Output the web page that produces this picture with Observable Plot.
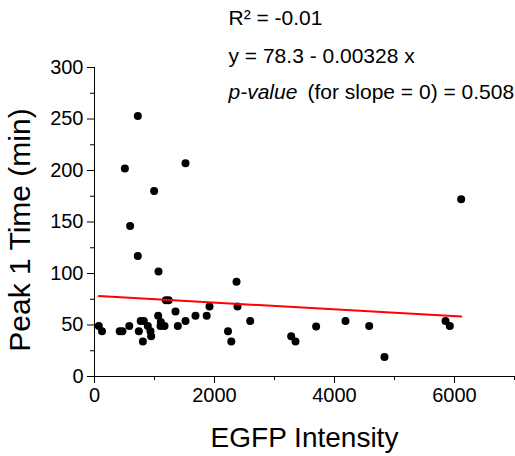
<!DOCTYPE html>
<html>
<head>
<meta charset="utf-8">
<script src="https://cdn.jsdelivr.net/npm/d3@7"></script>
<script src="https://cdn.jsdelivr.net/npm/@observablehq/plot@0.6"></script>
<style>
  html, body { margin: 0; padding: 0; background: #fff; }
  svg { display: block; }
</style>
</head>
<body>
<div id="chart"></div>
<script>
// EGFP intensity (x) and Peak 1 time in minutes (y)
const egfp = [72, 125, 420, 465, 580, 506, 722, 594, 722, 994, 1067, 1517, 2367,
  739, 770, 822, 806, 889, 933, 944, 1061, 1105, 1100, 1167, 1190, 1235, 1350, 1389,
  1517, 1683, 1870, 1917, 2225, 2280, 2383, 2595, 3278, 3350, 3694, 4183, 4578,
  4833, 5850, 5922, 6111];
const peakTime = [49, 44, 44, 44, 49, 202, 253, 146, 117, 180, 102, 207, 92,
  44, 54, 54, 34, 49, 44, 39, 59, 53, 49, 49, 74, 74, 63, 49,
  54, 59, 59, 68, 44, 34, 68, 54, 39, 34, 48.5, 54, 49,
  19, 54, 49, 172];

// Fit reported on the chart
const intercept = 78.3;
const slope = -0.00328;
const statLines = ["R\u00B2 = -0.01", "y = 78.3 - 0.00328 x"];
const pLabel = "p-value";
const pRest = "(for slope = 0) = 0.508";

const xMajor = [0, 2000, 4000, 6000];
const xMinor = [1000, 3000, 5000, 7000];
const yMajor = [0, 50, 100, 150, 200, 250, 300];
const yMinor = [25, 75, 125, 175, 225, 275];

const points = egfp.map((x, i) => ({x, y: peakTime[i]}));
const [xmin, xmax] = d3.extent(egfp);
const fit = [xmin, xmax].map(x => ({x, y: intercept + slope * x}));

const font = "'Liberation Sans', Arial, sans-serif";

const chart = Plot.plot({
  width: 515,
  height: 456,
  marginLeft: 94,
  marginRight: 1,
  marginTop: 67,
  marginBottom: 80,
  style: {fontFamily: font, color: "#000", background: "#fff", overflow: "visible"},
  x: {domain: [0, 7000]},
  y: {domain: [0, 300]},
  marks: [
    Plot.axisX({ticks: xMajor, tickSize: 7, tickPadding: 4, fontSize: 20, label: null, tickFormat: d => String(d)}),
    Plot.axisX({ticks: xMinor, tickSize: 4, label: null, tickFormat: () => ""}),
    Plot.axisY({ticks: yMajor, tickSize: 7, tickPadding: 4, fontSize: 20, label: null, tickFormat: d => String(d)}),
    Plot.axisY({ticks: yMinor, tickSize: 4, label: null, tickFormat: () => ""}),
    Plot.ruleY([0], {stroke: "#000", strokeWidth: 1}),
    Plot.ruleX([0], {stroke: "#000", strokeWidth: 1}),
    Plot.dot(points, {x: "x", y: "y", r: 4, fill: "#000", stroke: "none"}),
    Plot.line(fit, {x: "x", y: "y", stroke: "#ff0000", strokeWidth: 2}),
    Plot.text(["EGFP Intensity"], {frameAnchor: "bottom", dy: 70, fontSize: 28, fill: "#000"}),
    Plot.text(["Peak 1 Time (min)"], {frameAnchor: "left", textAnchor: "middle", lineAnchor: "middle", rotate: -90, dx: -74, dy: 8, fontSize: 30, fill: "#000"}),
    Plot.text([statLines[0]], {frameAnchor: "top-left", textAnchor: "start", dx: 134, dy: -57, fontSize: 21, fill: "#000"}),
    Plot.text([statLines[1]], {frameAnchor: "top-left", textAnchor: "start", dx: 134, dy: -19, fontSize: 21, fill: "#000"}),
    Plot.text([pLabel], {frameAnchor: "top-left", textAnchor: "start", dx: 134, dy: 17, fontSize: 21, fontStyle: "italic", fill: "#000"}),
    Plot.text([pRest], {frameAnchor: "top-left", textAnchor: "start", dx: 213, dy: 17, fontSize: 21, fill: "#000"})
  ]
});
document.getElementById("chart").appendChild(chart);
</script>
</body>
</html>
